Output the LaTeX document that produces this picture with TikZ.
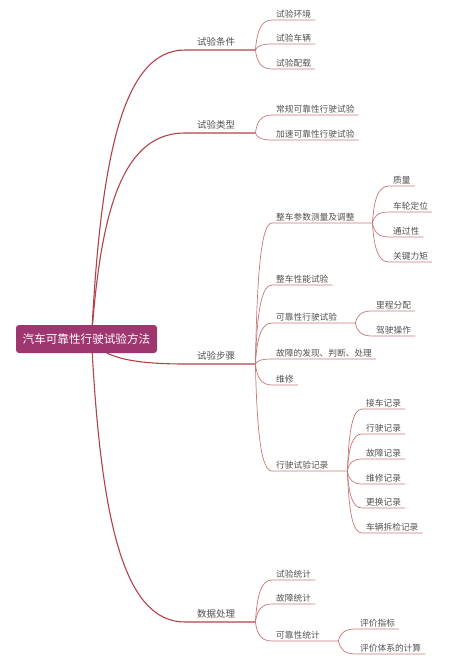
\documentclass[tikz,border=0pt]{standalone}
\usepackage{fontspec}
\setmainfont{Noto Sans CJK SC}
\usetikzlibrary{calc,backgrounds}
\definecolor{plum}{RGB}{158,55,112}
\definecolor{trunk}{RGB}{178,66,72}
\definecolor{twigred}{RGB}{200,118,118}
\definecolor{ink}{RGB}{80,80,80}

\begin{document}
\begin{tikzpicture}[
      x=1pt, y=-1pt,
      font=\fontsize{8.7}{10}\selectfont,
      every node/.style={text=ink},
      rootbox/.style={fill=plum, text=white, rounded corners=3pt,
                      font=\fontsize{11.6}{14}\selectfont,
                      minimum width=141pt, minimum height=28pt, inner sep=0pt},
      topic/.style={anchor=south west, inner xsep=4pt, inner ysep=2pt, align=left},
      main/.style={topic, font=\fontsize{9.5}{11}\selectfont,
                   inner xsep=12pt, inner ysep=4pt, text width=46pt},
      hub/.style={topic, text width=#1},
      mindcurve/.style={to path={let \p1=(\tikztostart), \p2=(\tikztotarget) in
          .. controls ({\x1+0.1*(\x2-\x1)},{\y1+0.65*(\y2-\y1)})
          and ({\x1+0.35*(\x2-\x1)},\y2) .. (\tikztotarget)}},
      trunkline/.style={draw=trunk, line width=1.1pt},
      twig/.style={draw=twigred, line width=0.7pt},
  ]
  \useasboundingbox (0,0) rectangle (464,664);

  % Root
  \node[rootbox] (root) at (86.5,339) {汽车可靠性行驶试验方法};

  % Level 1
  \node[main] (cond)  at (185,50)  {试验条件};
  \node[main] (type)  at (185,133) {试验类型};
  \node[main] (steps) at (185,364) {试验步骤};
  \node[main] (data)  at (185,622) {数据处理};

  % Test conditions
  \node[topic] (env)  at (272,20) {试验环境};
  \node[topic] (veh)  at (272,44) {试验车辆};
  \node[topic] (load) at (272,69) {试验配载};

  % Test types
  \node[topic] (regular) at (272,115) {常规可靠性行驶试验};
  \node[topic] (accel)   at (272,140) {加速可靠性行驶试验};

  % Test steps
  \node[hub=92pt] (param)  at (272,223) {整车参数测量及调整};
  \node[topic]    (perf)   at (272,285) {整车性能试验};
  \node[hub=75pt] (drive)  at (272,323) {可靠性行驶试验};
  \node[topic]    (fault)  at (272,359) {故障的发现、判断、处理};
  \node[topic]    (repair) at (272,385) {维修};
  \node[hub=67pt] (record) at (272,471) {行驶试验记录};

  % Vehicle parameters
  \node[topic] (mass)   at (389,186) {质量};
  \node[topic] (wheel)  at (389,212) {车轮定位};
  \node[topic] (pass)   at (389,237) {通过性};
  \node[topic] (torque) at (389,262) {关键力矩};

  % Reliability driving test
  \node[topic] (mile) at (372,311) {里程分配};
  \node[topic] (oper) at (372,336) {驾驶操作};

  % Driving test records
  \foreach \n/\y/\t in {rec1/409/接车记录, rec2/434/行驶记录, rec3/459/故障记录,
                        rec4/484/维修记录, rec5/508/更换记录, rec6/533/车辆拆检记录}
    \node[topic] (\n) at (362,\y) {\t};

  % Data processing
  \node[topic]    (tstat) at (272,580) {试验统计};
  \node[topic]    (fstat) at (272,604) {故障统计};
  \node[hub=58pt] (rstat) at (272,641) {可靠性统计};
  \node[topic]    (index) at (356,629) {评价指标};
  \node[topic]    (evalc) at (356,654) {评价体系的计算};

  % Trunk branches (behind the root box)
  \begin{scope}[on background layer]
    \foreach \m in {cond,type,steps,data}
      \draw[trunkline] ([xshift=5pt]root.center) to[mindcurve] (\m.south west) -- (\m.south east);
  \end{scope}

  % Twigs
  \foreach \m in {env,veh,load}
    \draw[twig] (cond.south east) to[mindcurve] (\m.south west) -- (\m.south east);
  \foreach \m in {regular,accel}
    \draw[twig] (type.south east) to[mindcurve] (\m.south west) -- (\m.south east);
  \foreach \m in {param,perf,drive,fault,repair,record}
    \draw[twig] (steps.south east) to[mindcurve] (\m.south west) -- (\m.south east);
  \foreach \m in {mass,wheel,pass,torque}
    \draw[twig] (param.south east) to[mindcurve] (\m.south west) -- (\m.south east);
  \foreach \m in {mile,oper}
    \draw[twig] (drive.south east) to[mindcurve] (\m.south west) -- (\m.south east);
  \foreach \m in {rec1,rec2,rec3,rec4,rec5,rec6}
    \draw[twig] (record.south east) to[mindcurve] (\m.south west) -- (\m.south east);
  \foreach \m in {tstat,fstat,rstat}
    \draw[twig] (data.south east) to[mindcurve] (\m.south west) -- (\m.south east);
  \foreach \m in {index,evalc}
    \draw[twig] (rstat.south east) to[mindcurve] (\m.south west) -- (\m.south east);

\end{tikzpicture}
\end{document}
